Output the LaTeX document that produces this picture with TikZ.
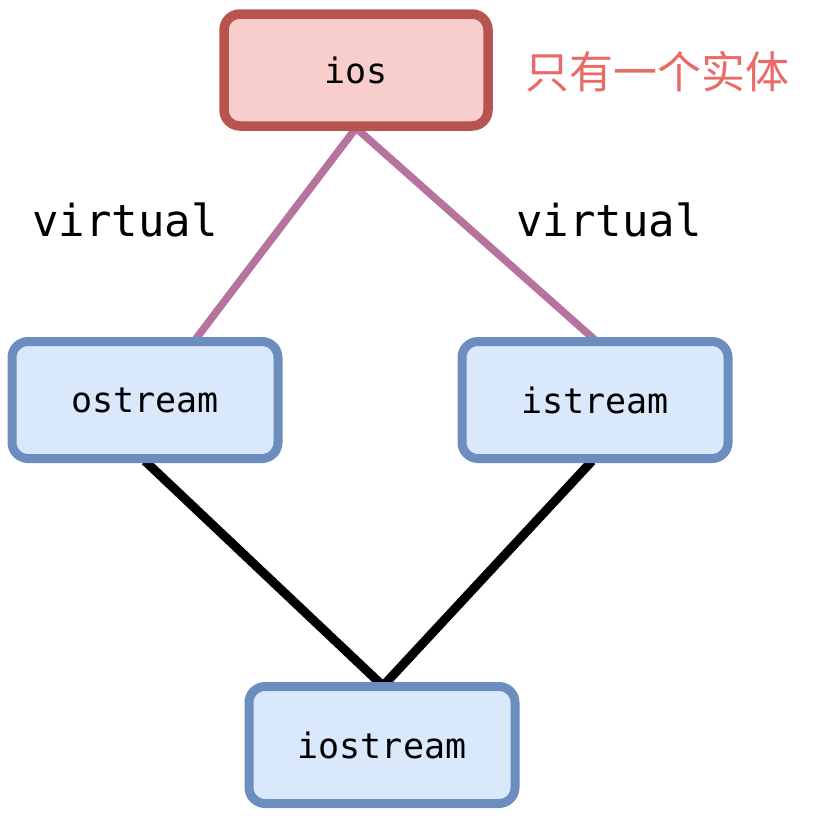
\documentclass[tikz,border=0pt]{standalone}
\usepackage{fontspec}
\setmonofont{DejaVu Sans Mono}
\newfontfamily\cjk{Noto Sans CJK SC}
\begin{document}
\begin{tikzpicture}[x=1pt,y=-1pt,
  redbox/.style={draw=redline,fill=redfill,line width=9.5pt,rounded corners=16pt,minimum width=264pt,minimum height=112pt,inner sep=0pt},
  bluebox/.style={draw=blueline,fill=bluefill,line width=9pt,rounded corners=16pt,minimum width=266pt,minimum height=117pt,inner sep=0pt},
  label/.style={font=\ttfamily\fontsize{35}{40}\selectfont},
  vlabel/.style={font=\ttfamily\fontsize{44}{50}\selectfont},
  vline/.style={draw=purpleline,line width=7.5pt},
  bline/.style={draw=black,line width=9pt}]
\definecolor{redline}{HTML}{B85450}
\definecolor{redfill}{HTML}{F8CECC}
\definecolor{blueline}{HTML}{6C8EBF}
\definecolor{bluefill}{HTML}{DAE8FC}
\definecolor{purpleline}{HTML}{B5739D}
\definecolor{cjkred}{HTML}{EA6B66}
\useasboundingbox (0,0) rectangle (828,819);
\coordinate (iosb) at (356,128);
\coordinate (ost) at (195,340);
\coordinate (ist) at (595,340);
\coordinate (osb) at (145,461);
\coordinate (isb) at (592,461);
\coordinate (iot) at (383,686);
\draw[vline] (iosb) -- (ost);
\draw[vline] (iosb) -- (ist);
\draw[bline] (osb) -- (iot);
\draw[bline] (isb) -- (iot);
\node[redbox,label] (ios) at (356,70) {ios};
\node[bluebox,label] (ostream) at (145,400) {ostream};
\node[bluebox,label] (istream) at (595,400) {istream};
\node[bluebox,label] (iostream) at (382,745) {iostream};
\node[vlabel] (v1) at (125,220) {virtual};
\node[vlabel] (v2) at (609,220) {virtual};
\node[font=\cjk\fontsize{44}{50}\selectfont,text=cjkred] (note) at (657,72) {只有一个实体};
\end{tikzpicture}
\end{document}
